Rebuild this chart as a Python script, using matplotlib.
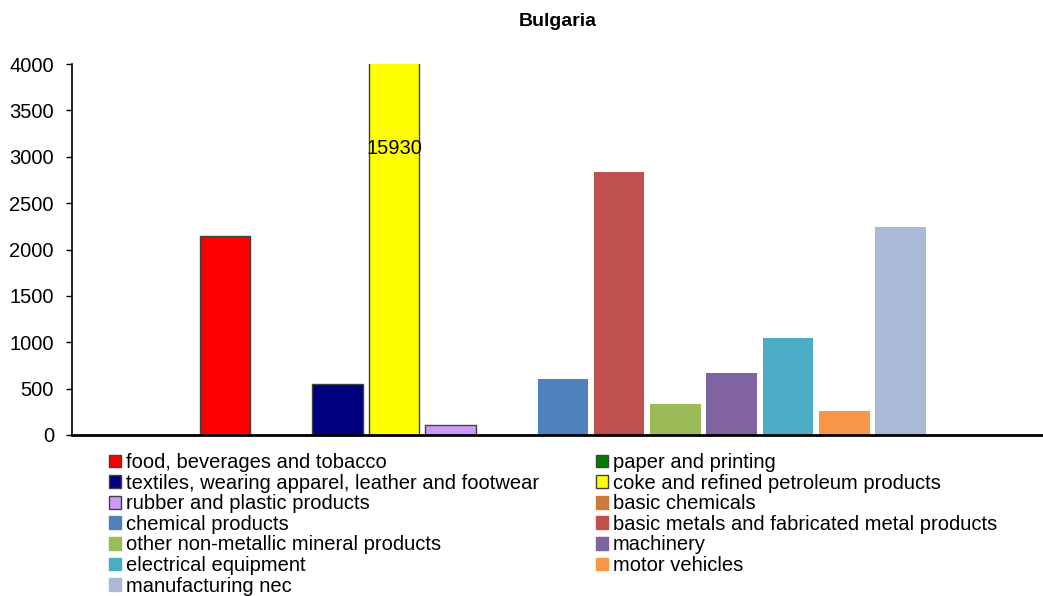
import matplotlib
matplotlib.use("Agg")
import matplotlib.pyplot as plt
import numpy as np
from matplotlib.patches import Patch

plt.rcParams['font.family'] = ['Liberation Sans', 'DejaVu Sans']

# series (one bar each, Excel style clustered at one category)
sectors = [
    "food, beverages and tobacco",
    "paper and printing",
    "textiles, wearing apparel, leather and footwear",
    "coke and refined petroleum products",
    "rubber and plastic products",
    "basic chemicals",
    "chemical products",
    "basic metals and fabricated metal products",
    "other non-metallic mineral products",
    "machinery",
    "electrical equipment",
    "motor vehicles",
    "manufacturing nec",
]
values = [2150, 0, 550, 15930, 105, 0, 600, 2840, 330, 665, 1050, 255, 2240]
colors = ['#FF0000', '#008000', '#000080', '#FFFF00', '#CC99FF', '#CC7A3A',
          '#4F81BD', '#C0504D', '#9BBB59', '#8064A2', '#4BACC6', '#F79646',
          '#AAB9D8']
edged = [True, True, True, True, True, False,
         False, False, False, False, False, False, False]
yticks = [0, 500, 1000, 1500, 2000, 2500, 3000, 3500, 4000]
ymax = 4000

fig = plt.figure(figsize=(10.43, 5.96), dpi=100)
ax = fig.add_axes([72/1043, (596-435)/596, 1 - 72/1043, (435-64)/596])

x = np.arange(len(values))
handles = []
for i in range(len(values)):
    ec = '#404040' if edged[i] else 'none'
    ax.bar(x[i], values[i], width=0.9, color=colors[i], edgecolor=ec,
           linewidth=1.0 if edged[i] else 0)
    handles.append(Patch(facecolor=colors[i], edgecolor=ec if edged[i] else colors[i],
                         linewidth=1.0))

# value label for the clipped bar
big = int(np.argmax(values))
ax.text(x[big], 3090, str(values[big]), ha='center', va='center', fontsize=14.5)

ax.set_xlim(-2.72, 14.53)
ax.set_ylim(0, ymax)
ax.set_yticks(yticks)
ax.set_yticklabels([str(t) for t in yticks], fontsize=14.5)
ax.set_xticks([])
ax.spines['top'].set_visible(False)
ax.spines['right'].set_visible(False)
ax.spines['left'].set_linewidth(1.2)
ax.spines['bottom'].set_linewidth(2.0)
ax.tick_params(axis='y', length=4, width=1, direction='out', pad=9)
ax.set_title("Bulgaria", fontsize=14, fontweight='bold', pad=27)

# legend: two columns, rows read left to right
left = [0, 2, 4, 6, 8, 10, 12]
right = [1, 3, 5, 7, 9, 11]
kw = dict(frameon=False, fontsize=14.5, handlelength=0.6, handleheight=0.6,
          handletextpad=0.25, labelspacing=0.08, borderpad=0, borderaxespad=0)
lg1 = fig.legend([handles[i] for i in left], [sectors[i] for i in left],
                 loc='upper left', bbox_to_anchor=(109/1043, 1 - 453/596), **kw)
lg2 = fig.legend([handles[i] for i in right], [sectors[i] for i in right],
                 loc='upper left', bbox_to_anchor=(596/1043, 1 - 453/596), **kw)

fig.savefig("out.png", dpi=100)
